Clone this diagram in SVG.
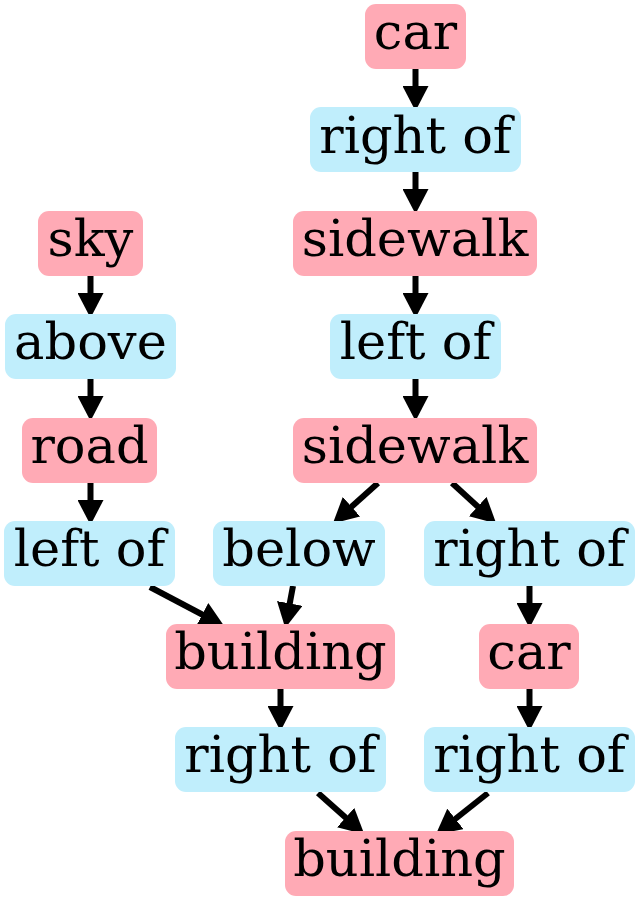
<svg xmlns="http://www.w3.org/2000/svg" width="639" height="900" viewBox="0 0 639 900">
<defs>
<style>
.p{fill:#ffaab5}
.b{fill:#c0eefc}
text{font-family:"DejaVu Serif",serif;font-size:51px;fill:#000;text-anchor:middle}
.e{stroke:#000;stroke-width:6;fill:none;marker-end:url(#ah)}
</style>
<marker id="ah" markerUnits="userSpaceOnUse" viewBox="0 0 25 26" refX="1" refY="13" markerWidth="25" markerHeight="26" orient="auto">
<path d="M0,0 L25,13 L0,26 z" fill="#000"/>
</marker>
</defs>
<rect width="639" height="900" fill="#fff"/>
<g id="edges">
<path class="e" d="M415.5,69 L415.5,87"/>
<path class="e" d="M415.5,172 L415.5,190"/>
<path class="e" d="M415.5,276 L415.5,294"/>
<path class="e" d="M415.5,379 L415.5,397"/>
<path class="e" d="M90.5,276 L90.5,294"/>
<path class="e" d="M90.5,379 L90.5,397"/>
<path class="e" d="M90.5,483 L90.5,501"/>
<path class="e" d="M378,483 L350.7,507.4"/>
<path class="e" d="M452,483 L478.5,507.2"/>
<path class="e" d="M150,587 L203.1,615"/>
<path class="e" d="M293,586 L289.6,604.4"/>
<path class="e" d="M529.5,586 L529.5,604"/>
<path class="e" d="M280.5,689 L280.5,707"/>
<path class="e" d="M529.5,689 L529.5,707"/>
<path class="e" d="M318,793 L346.4,818.3"/>
<path class="e" d="M488,793 L454.6,819.5"/>
</g>
<g id="car1"><rect class="p" x="365" y="4" width="101" height="65" rx="11"/><text x="415.5" y="49">car</text></g>
<g id="rightof1"><rect class="b" x="310" y="107" width="211" height="65" rx="11"/><text x="415.5" y="152.5">right of</text></g>
<g id="sidewalk1"><rect class="p" x="293" y="211" width="244" height="65" rx="11"/><text x="415" y="256">sidewalk</text></g>
<g id="leftof1"><rect class="b" x="330" y="314" width="171" height="65" rx="11"/><text x="415.5" y="359">left of</text></g>
<g id="sidewalk2"><rect class="p" x="293" y="418" width="244" height="65" rx="11"/><text x="415" y="463">sidewalk</text></g>
<g id="sky"><rect class="p" x="38" y="211" width="105" height="65" rx="11"/><text x="90.5" y="256">sky</text></g>
<g id="above"><rect class="b" x="5" y="314" width="171" height="65" rx="11"/><text x="90.5" y="359">above</text></g>
<g id="road"><rect class="p" x="22" y="418" width="135" height="65" rx="11"/><text x="89.5" y="463">road</text></g>
<g id="leftof2"><rect class="b" x="4" y="521" width="171" height="65" rx="11"/><text x="89.5" y="566">left of</text></g>
<g id="below"><rect class="b" x="213" y="521" width="172" height="65" rx="11"/><text x="299" y="566">below</text></g>
<g id="rightof2"><rect class="b" x="424" y="521" width="211" height="65" rx="11"/><text x="529.5" y="566">right of</text></g>
<g id="building1"><rect class="p" x="166" y="624" width="229" height="65" rx="11"/><text x="280.5" y="669">building</text></g>
<g id="car2"><rect class="p" x="479" y="624" width="100" height="65" rx="11"/><text x="529" y="669">car</text></g>
<g id="rightof3"><rect class="b" x="175" y="727" width="211" height="65" rx="11"/><text x="280.5" y="772">right of</text></g>
<g id="rightof4"><rect class="b" x="424" y="727" width="211" height="65" rx="11"/><text x="529.5" y="772">right of</text></g>
<g id="building2"><rect class="p" x="285" y="831" width="229" height="65" rx="11"/><text x="399.5" y="876">building</text></g>
</svg>
